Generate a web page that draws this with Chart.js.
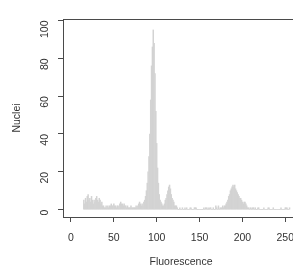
<!DOCTYPE html>
<html>
<head>
<meta charset="utf-8">
<script src="https://cdn.jsdelivr.net/npm/chart.js@4/dist/chart.umd.min.js"></script>
<style>
  html, body { margin: 0; padding: 0; background: #fff; overflow: hidden; }
  canvas { display: block; }
</style>
</head>
<body>
<canvas id="histCanvas" width="300" height="272"></canvas>
<script>
// histogram: first bin and counts per fluorescence channel
const firstBin = 15;
const counts = [
    5, 3, 6, 4, 7, 8, 5, 6, 4, 7, 5, 3, 5, 4, 6, 7, 5, 4, 6, 5,   // 15-34
    3, 4, 2, 2, 1, 1, 2, 1, 2, 1, 2, 2, 3, 2, 2, 3, 2, 2, 1, 2,   // 35-54
    2, 1, 3, 4, 3, 3, 2, 3, 2, 2, 1, 2, 1, 1, 1, 2, 1, 1, 1, 1,   // 55-74
    1, 2, 1, 2, 3, 4, 3, 2, 3, 2, 4, 5, 7, 10, 14, 20, 28, 40, 58, 76, // 75-94
    86, 95, 88, 72, 52, 35, 22, 14, 8, 5, 4, 3, 2, 2, 3, 5, 6, 8, 10, 12, // 95-114
    13, 11, 8, 6, 5, 4, 2, 2, 2, 1, 0, 0, 1, 0, 0, 1, 0, 0, 1, 0, // 115-134
    1, 0, 0, 0, 1, 1, 0, 0, 0, 1, 1, 1, 0, 0, 0, 0, 0, 0, 0, 0,   // 135-154
    1, 0, 1, 1, 0, 1, 0, 1, 1, 0, 0, 1, 0, 0, 2, 1, 0, 2, 0, 1,   // 155-174
    1, 1, 2, 1, 2, 2, 3, 4, 5, 7, 8, 10, 11, 12, 13, 12, 13, 11, 10, 9, // 175-194
    8, 7, 6, 6, 5, 4, 3, 4, 4, 3, 2, 1, 1, 0, 1, 1, 0, 1, 1, 0,   // 195-214
    1, 0, 0, 1, 1, 0, 0, 0, 0, 0, 1, 0, 0, 0, 0, 1, 1, 0, 0, 0,   // 215-234
    0, 1, 0, 0, 0, 0, 0, 0, 0, 0, 1, 0, 0, 0, 0, 1, 1, 1, 0, 0,   // 235-254
    1                                                             // 255
];
const xTicks = [0, 50, 100, 150, 200, 250];
const yTicks = [0, 20, 40, 60, 80, 100];

const axisColor = "#4a4a4a";
const textColor = "#333";
const fontFamily = "'Liberation Sans', Arial, sans-serif";

// R-style box round the plot area
const boxPlugin = {
    id: "plotBox",
    afterDatasetsDraw(chart) {
        const { ctx, chartArea: a } = chart;
        ctx.save();
        ctx.strokeStyle = axisColor;
        ctx.lineWidth = 1;
        ctx.strokeRect(Math.round(a.left) + 0.5, Math.round(a.top) + 0.5,
            Math.round(a.right - a.left), Math.round(a.bottom - a.top));
        ctx.restore();
    }
};

const ctx = document.getElementById("histCanvas").getContext("2d");

new Chart(ctx, {
    type: "bar",
    data: {
        datasets: [{
            data: counts.map((c, i) => ({ x: firstBin + i, y: c })),
            backgroundColor: "#d3d3d3",
            borderWidth: 0,
            barPercentage: 1,
            categoryPercentage: 1
        }]
    },
    options: {
        responsive: false,
        animation: false,
        events: [],
        layout: { padding: { left: 0, top: 19, right: 1, bottom: 2 } },
        plugins: { legend: { display: false }, tooltip: { enabled: false } },
        scales: {
            x: {
                type: "linear",
                min: -9.3,
                max: 266,
                offset: false,
                border: { display: false },
                grid: { offset: false, drawOnChartArea: false, drawTicks: true, tickLength: 5, color: axisColor },
                ticks: { color: textColor, font: { family: fontFamily, size: 10.5 }, padding: 10, maxRotation: 0 },
                afterBuildTicks: s => { s.ticks = xTicks.map(v => ({ value: v })); },
                afterFit: s => { s.height = 53; s.paddingLeft = 0; s.paddingRight = 0; },
                title: {
                    display: true,
                    text: "Fluorescence",
                    color: textColor,
                    font: { family: fontFamily, size: 10.5 },
                    padding: { top: 0, bottom: 2 }
                }
            },
            y: {
                min: -3.9,
                max: 100.8,
                border: { display: false },
                grid: { drawOnChartArea: false, drawTicks: true, tickLength: 5, color: axisColor },
                ticks: { color: textColor, font: { family: fontFamily, size: 10.5 }, padding: 13, minRotation: 90, maxRotation: 90 },
                afterBuildTicks: s => { s.ticks = yTicks.map(v => ({ value: v })); },
                afterFit: s => { s.width = 63; s.paddingTop = 0; s.paddingBottom = 0; },
                title: {
                    display: true,
                    text: "Nuclei",
                    color: textColor,
                    font: { family: fontFamily, size: 10.5 },
                    padding: { top: 11, bottom: 0 }
                }
            }
        }
    },
    plugins: [boxPlugin]
});
</script>
</body>
</html>
